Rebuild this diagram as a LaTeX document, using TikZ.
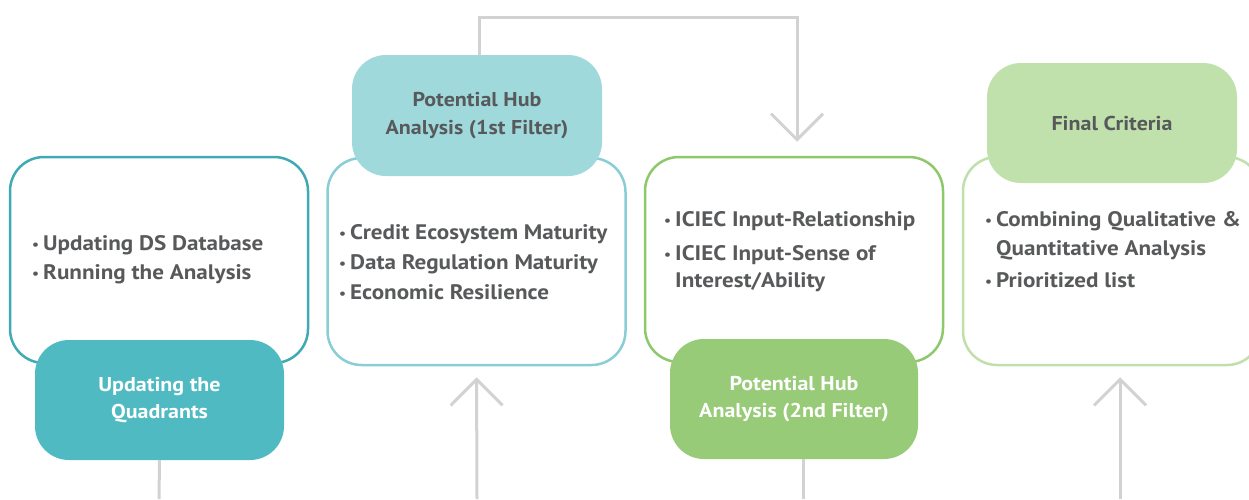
\documentclass[tikz,border=0pt]{standalone}
\usepackage{fontspec}
\setmainfont{PT Sans}[FakeStretch=1.1]
\usetikzlibrary{arrows.meta}
\definecolor{tealA}{HTML}{3FAAB3}
\definecolor{tealAf}{HTML}{4FBAC2}
\definecolor{tealB}{HTML}{88CED4}
\definecolor{tealBf}{HTML}{9FD9DC}
\definecolor{greenC}{HTML}{8DC86B}
\definecolor{greenCf}{HTML}{97CB77}
\definecolor{greenD}{HTML}{BFE0AB}
\definecolor{greenDf}{HTML}{C0E0AC}
\definecolor{txtgray}{HTML}{58595B}
\definecolor{conn}{HTML}{D2D2D2}
\tikzset{
  box/.style={draw, line width=2.5pt, fill=white, rounded corners=34pt, minimum width=298pt, minimum height=206pt, inner sep=0pt},
  lab/.style={rounded corners=34pt, minimum width=249pt, minimum height=120pt, inner sep=0pt, align=center, font=\fontsize{20}{27.5}\selectfont\bfseries},
  items/.style={anchor=west, inner sep=0pt, text=txtgray, font=\fontsize{21}{29}\selectfont\bfseries},
  connector/.style={draw=conn, line width=3pt},
  chev/.style={-{Straight Barb[length=26pt,width=52pt,line width=3pt]}}
}
\newcommand{\bul}{\raisebox{0.1ex}{\fontsize{14}{14}\selectfont•}}
\begin{document}
\begin{tikzpicture}[x=1pt,y=-1pt]
\useasboundingbox (0,0) rectangle (1249,499);
\clip (0,0) rectangle (1249,499);
% boxes
\node[box, draw=tealA] (b1) at (159,260) {};
\node[box, draw=tealB, minimum height=207pt] (b2) at (476.5,261.5) {};
\node[box, draw=greenC, minimum height=205pt] (b3) at (794,259.5) {};
\node[box, draw=greenD, minimum height=208pt] (b4) at (1112,261) {};
% labels
\node[lab, fill=tealAf, text=white] (l1) at (159.5,400) {Updating the\\Quadrants};
\node[lab, fill=tealBf, text=txtgray, minimum width=250pt, minimum height=121pt] (l2) at (477,115.5) {Potential Hub\\Analysis (1st Filter)};
\node[lab, fill=greenCf, text=white, minimum width=248pt] (l3) at (794,399) {Potential Hub\\Analysis (2nd Filter)};
\node[lab, fill=greenDf, text=txtgray, minimum width=250pt] (l4) at (1112,123) {Final Criteria};
% texts
\node[items] (t1) at (32,259.5) {\begin{tabular}{@{}l@{\hspace{4pt}}l@{}}\bul & Updating DS Database\\ \bul & Running the Analysis\end{tabular}};
\node[items] (t2) at (339,264) {\begin{tabular}{@{}l@{\hspace{4pt}}l@{}}\bul & Credit Ecosystem Maturity\\[1pt] \bul & Data Regulation Maturity\\[1pt] \bul & Economic Resilience\end{tabular}};
\node[items] (t3) at (664,251.5) {\begin{tabular}{@{}l@{\hspace{4pt}}l@{}}\bul & ICIEC Input-Relationship\\[5pt] \bul & ICIEC Input-Sense of\\[-2pt] & Interest/Ability\end{tabular}};
\node[items] (t4) at (985,251.5) {\begin{tabular}{@{}l@{\hspace{4pt}}l@{}}\bul & Combining Qualitative \&\\ & Quantitative Analysis\\[3pt] \bul & Prioritized list\end{tabular}};
% connectors
\coordinate (e1) at (159,499);
\coordinate (e3) at (803,499);
\coordinate (s2) at (477,499);
\coordinate (s4) at (1120,499);
\draw[connector] (l1.south) -- (e1);
\draw[connector] ([xshift=9pt]l3.south) -- (e3);
\draw[connector, chev, shorten >=11pt] (s2) -- (b2.south);
\draw[connector, chev, shorten >=11pt] (s4) -- ([xshift=8pt]b4.south);
\draw[connector, chev, shorten >=14pt] ([xshift=2pt]l2.north) |- (797,17) -- ([xshift=3pt]b3.north);
\end{tikzpicture}
\end{document}
